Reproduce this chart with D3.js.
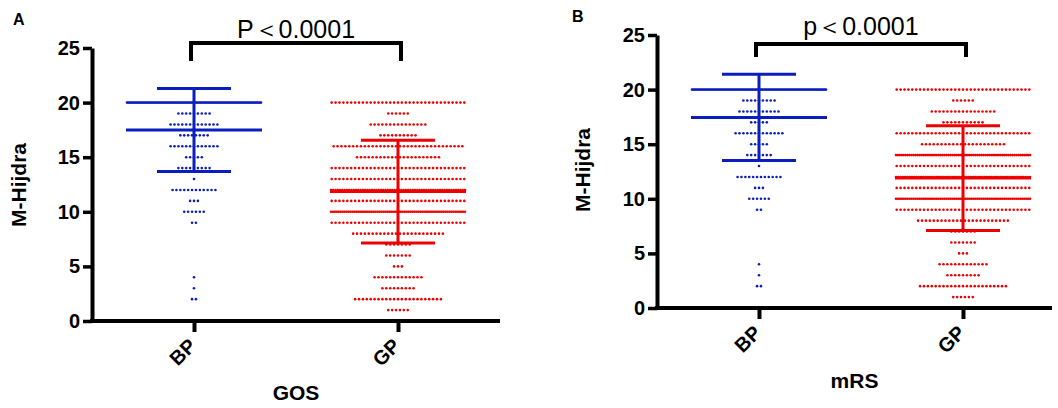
<!DOCTYPE html>
<html>
<head>
<meta charset="utf-8">
<script src="https://cdn.jsdelivr.net/npm/d3@7"></script>
<style>
  body { margin: 0; background: #fff; }
  text { font-family: "Liberation Sans", Arial, sans-serif; }
</style>
</head>
<body>
<div id="chart-area"></div>
<script>
// score levels for every dot row, top to bottom
var scoreLevels = [20, 19, 18, 17, 16, 15, 14, 13, 12, 11, 10, 9, 8, 7, 6, 5, 4, 3, 2, 1];
var groups = ["BP", "GP"];
var yTicks = [0, 5, 10, 15, 20, 25];

// number of patients on each score level
var gosBP = [100, 9, 13, 8, 13, 5, 9, 1, 12, 3, 6, 2, 0, 0, 0, 0, 1, 1, 2, 0];
var gosGP = [35, 6, 15, 10, 34, 22, 35, 35, 60, 35, 70, 35, 24, 7, 7, 3, 13, 9, 23, 6];
var mrsBP = [100, 9, 11, 5, 13, 5, 7, 1, 12, 3, 6, 2, 0, 0, 0, 0, 1, 1, 2, 0];
var mrsGP = [35, 6, 17, 11, 35, 22, 70, 35, 60, 35, 70, 35, 24, 7, 7, 3, 13, 9, 23, 6];

// mean and SD per group
var gosMeans = [17.5, 11.85];
var gosSDs = [3.8, 4.7];
var mrsMeans = [17.45, 11.9];
var mrsSDs = [3.95, 4.8];

var colors = ["#0a1ebe", "#ee0000"];

var svg = d3.select("#chart-area")
    .append("svg")
        .attr("width", 1058)
        .attr("height", 408);

drawPanel({
    letter: "A", letterX: 13, letterY: 25,
    left: 92, top: 48, bottom: 321, xEnd: 500,
    counts: [gosBP, gosGP], means: gosMeans, sds: gosSDs,
    pText: "P\uFF1C0.0001", pY: 38, bracketTop: 43, bracketBottom: 61,
    xTitle: "GOS", xTitleY: 400, yTitleX: 26, yTitleY: 185
});

drawPanel({
    letter: "B", letterX: 572, letterY: 22,
    left: 657, top: 35, bottom: 308, xEnd: 1052,
    counts: [mrsBP, mrsGP], means: mrsMeans, sds: mrsSDs,
    pText: "p\uFF1C0.0001", pY: 35, bracketTop: 44, bracketBottom: 57,
    xTitle: "mRS", xTitleY: 388, yTitleX: 590, yTitleY: 170
});

function drawPanel(cfg) {
    var g = svg.append("g");

    var x = d3.scalePoint().domain(groups).range([cfg.left, cfg.left + 408]).padding(0.5);
    var y = d3.scaleLinear().domain([0, 25]).range([cfg.bottom, cfg.top]);

    // dot rows, squeezed when a row gets wider than maxRow
    var pitch = 3.9, maxRow = 134;
    var points = [];
    groups.forEach(function(grp, gi) {
        cfg.counts[gi].forEach(function(n, li) {
            var step = n > 1 ? Math.min(pitch, maxRow / (n - 1)) : 0;
            for (var k = 0; k < n; k++) {
                points.push({ group: grp, gi: gi, score: scoreLevels[li], off: (k - (n - 1) / 2) * step });
            }
        });
    });

    g.append("g").selectAll("circle").data(points)
        .join("circle")
            .attr("cx", function(d) { return x(d.group) + d.off; })
            .attr("cy", function(d) { return y(d.score); })
            .attr("r", 1.3)
            .attr("fill", function(d) { return colors[d.gi]; });

    // mean +/- SD
    groups.forEach(function(grp, gi) {
        var cx = x(grp), m = cfg.means[gi], s = cfg.sds[gi];
        var lines = g.append("g")
            .attr("stroke", colors[gi])
            .attr("stroke-width", 3);
        lines.append("line")
            .attr("x1", cx).attr("x2", cx)
            .attr("y1", y(m + s)).attr("y2", y(m - s));
        lines.append("line")
            .attr("x1", cx - 68).attr("x2", cx + 68)
            .attr("y1", y(m)).attr("y2", y(m));
        [m + s, m - s].forEach(function(v) {
            lines.append("line")
                .attr("x1", cx - 37).attr("x2", cx + 37)
                .attr("y1", y(v)).attr("y2", y(v));
        });
    });

    // y axis
    var yAxis = g.append("g")
        .attr("transform", "translate(" + cfg.left + ", 0)")
        .call(d3.axisLeft(y).tickValues(yTicks).tickSize(9).tickSizeOuter(0).tickPadding(3));
    yAxis.select(".domain").attr("stroke-width", 4).attr("stroke", "#000");
    yAxis.selectAll(".tick line").attr("stroke-width", 3.5).attr("stroke", "#000");
    yAxis.selectAll(".tick text")
        .attr("font-size", "20px")
        .attr("font-weight", "bold")
        .attr("fill", "#000")
        .attr("font-family", "'Liberation Sans', Arial, sans-serif");

    // x axis
    var xAxis = g.append("g")
        .attr("transform", "translate(0, " + cfg.bottom + ")")
        .call(d3.axisBottom(x).tickSize(11).tickSizeOuter(0));
    xAxis.select(".domain").remove();
    xAxis.selectAll(".tick line").attr("stroke-width", 4).attr("stroke", "#000");
    xAxis.selectAll(".tick text")
        .attr("font-size", "20px")
        .attr("font-weight", "bold")
        .attr("fill", "#000")
        .attr("font-family", "'Liberation Sans', Arial, sans-serif")
        .attr("text-anchor", "end")
        .attr("y", 0).attr("dy", 0)
        .attr("transform", "translate(3, 26) rotate(-45)");
    g.append("line")
        .attr("x1", cfg.left - 2).attr("x2", cfg.xEnd)
        .attr("y1", cfg.bottom).attr("y2", cfg.bottom)
        .attr("stroke", "#000")
        .attr("stroke-width", 4);

    // significance bracket
    var bx1 = x("BP") - 3, bx2 = x("GP") + 3;
    g.append("path")
        .attr("d", "M" + bx1 + "," + cfg.bracketBottom + "V" + cfg.bracketTop + "H" + bx2 + "V" + cfg.bracketBottom)
        .attr("fill", "none")
        .attr("stroke", "#000")
        .attr("stroke-width", 4);
    g.append("text")
        .attr("x", (x("BP") + x("GP")) / 2)
        .attr("y", cfg.pY)
        .attr("text-anchor", "middle")
        .attr("font-size", "25px")
        .text(cfg.pText);

    // titles
    g.append("text")
        .attr("x", (cfg.left + cfg.xEnd) / 2)
        .attr("y", cfg.xTitleY)
        .attr("text-anchor", "middle")
        .attr("font-size", "21px")
        .attr("font-weight", "bold")
        .text(cfg.xTitle);
    g.append("text")
        .attr("transform", "translate(" + cfg.yTitleX + ", " + cfg.yTitleY + ") rotate(-90)")
        .attr("text-anchor", "middle")
        .attr("font-size", "21px")
        .attr("font-weight", "bold")
        .text("M-Hijdra");
    g.append("text")
        .attr("x", cfg.letterX)
        .attr("y", cfg.letterY)
        .attr("font-size", "16px")
        .attr("font-weight", "bold")
        .text(cfg.letter);
}
</script>
</body>
</html>
